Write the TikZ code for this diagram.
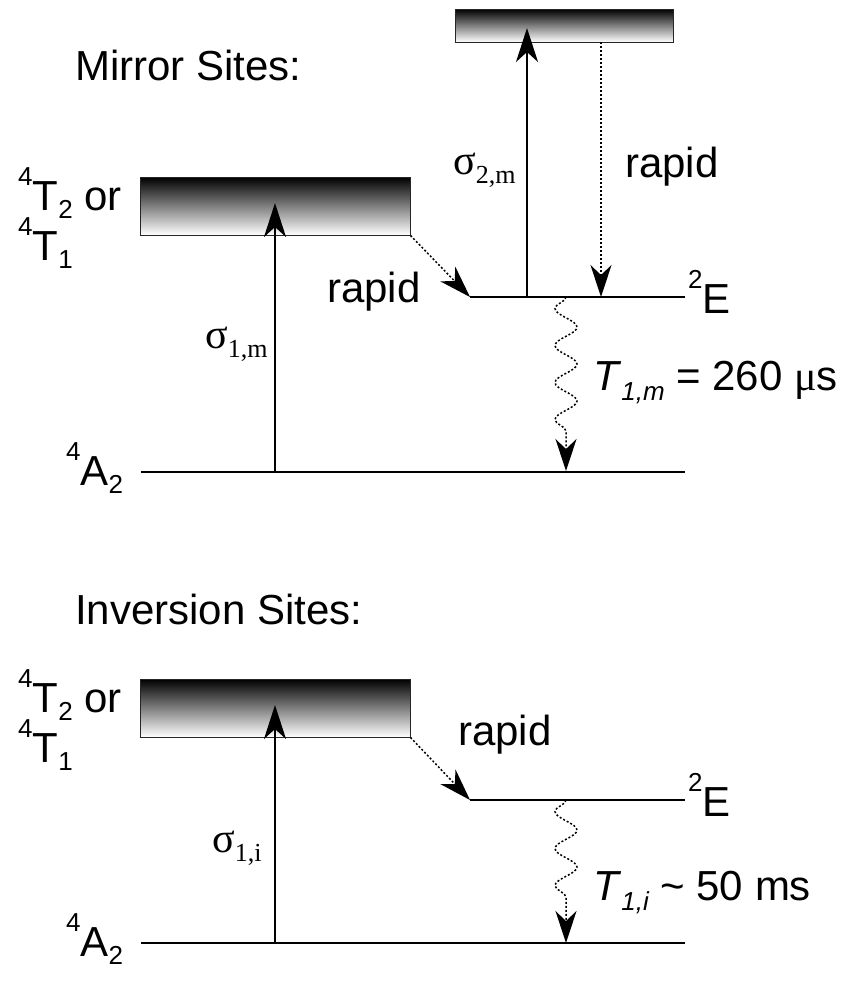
\documentclass[tikz,border=0pt]{standalone}
\usepackage{fontspec}
\setmainfont{Liberation Sans}
\newfontfamily\tnr{Liberation Serif}
\usetikzlibrary{arrows.meta,decorations.pathmorphing}
\newcommand\uidx[1]{\raisebox{25pt}{\fontsize{26pt}{26pt}\selectfont #1}}
\newcommand\lidx[1]{\raisebox{-8pt}{\fontsize{26pt}{26pt}\selectfont #1}}
\newcommand\tidx[1]{\raisebox{-10pt}{\fontsize{26pt}{26pt}\selectfont\itshape #1}}
\newcommand\sidx[1]{\raisebox{-9pt}{\fontsize{26pt}{26pt}\selectfont #1}}
\tikzset{
  lvl/.style={line width=2pt},
  sarrow/.style={line width=2pt,-{Stealth[length=34pt,width=22pt,inset=10pt]}},
  darrow/.style={line width=1.5pt,dash pattern=on 2pt off 2pt,-{Stealth[length=32pt,width=21pt,inset=10pt]}},
  warrow/.style={darrow,decorate,decoration={snake,amplitude=11pt,segment length=37pt,post length=28pt,mirror}},
  gbox/.style={draw=black!85,line width=1pt,top color=black,bottom color=white,inner sep=0pt},
  lbl/.style={anchor=base west,inner sep=0pt,font=\fontsize{42pt}{50pt}\selectfont},
  sig/.style={anchor=base west,inner sep=0pt,font=\tnr\fontsize{42pt}{50pt}\selectfont}
}
\begin{document}
\begin{tikzpicture}[x=1pt,y=-1pt]
\useasboundingbox (0,0) rectangle (850,999);
% ---------------- Mirror sites ----------------
\node[lbl] (mirror) at (75,80) {Mirror Sites:};
\node[gbox,minimum width=270pt,minimum height=58pt] (B1) at (275,206) {};
\node[gbox,minimum width=218pt,minimum height=33pt] (B2) at (564,25.5) {};
\coordinate (A2La) at (141,472); \coordinate (A2Ra) at (685,472);
\coordinate (ELa) at (470,297); \coordinate (ERa) at (685,297);
\draw[lvl] (A2La) -- (A2Ra);
\draw[lvl] (ELa) -- (ERa);
\coordinate (s1b) at (275,472); \coordinate (s1t) at (275,203);
\coordinate (s2b) at (527,297); \coordinate (s2t) at (527,28);
\coordinate (r2t) at (601,42); \coordinate (r2b) at (601,297);
\coordinate (wt) at (566,297); \coordinate (wb) at (566,471);
\draw[sarrow] (s1b) -- (s1t);
\draw[sarrow] (s2b) -- (s2t);
\draw[darrow] (r2t) -- (r2b);
\draw[darrow] (B1.south east) -- (ELa);
\draw[warrow] (wt) -- (wb);
\node[lbl] (t2u) at (18,210) {\uidx{4}T\lidx{2} or};
\node[lbl] (t1u) at (18,260) {\uidx{4}T\lidx{1}};
\node[lbl] (a2u) at (66,485) {\uidx{4}A\lidx{2}};
\node[lbl] (eu) at (688,313) {\uidx{2}E};
\node[lbl] (rap1) at (327,302) {rapid};
\node[lbl] (rap2) at (625,177) {rapid};
\node[sig] (s2m) at (453,174) {σ\sidx{2,m}};
\node[sig] (s1m) at (205,348) {σ\sidx{1,m}};
\node[lbl] (tm) at (593,390) {\textit{T}\tidx{1,m} = 260 {\tnr μ}s};
% ---------------- Inversion sites ----------------
\node[lbl] (inv) at (75,624) {Inversion Sites:};
\node[gbox,minimum width=270pt,minimum height=58pt] (B3) at (275,708) {};
\coordinate (A2Lb) at (141,943); \coordinate (A2Rb) at (685,943);
\coordinate (ELb) at (470,800); \coordinate (ERb) at (685,800);
\draw[lvl] (A2Lb) -- (A2Rb);
\draw[lvl] (ELb) -- (ERb);
\coordinate (s3b) at (275,943); \coordinate (s3t) at (275,705);
\coordinate (wt2) at (566,800); \coordinate (wb2) at (566,943);
\draw[sarrow] (s3b) -- (s3t);
\draw[darrow] (B3.south east) -- (ELb);
\draw[warrow] (wt2) -- (wb2);
\node[lbl] (t2l) at (18,712) {\uidx{4}T\lidx{2} or};
\node[lbl] (t1l) at (18,762) {\uidx{4}T\lidx{1}};
\node[lbl] (a2l) at (66,956) {\uidx{4}A\lidx{2}};
\node[lbl] (el) at (688,816) {\uidx{2}E};
\node[lbl] (rap3) at (458,745) {rapid};
\node[sig] (s1i) at (212,852) {σ\sidx{1,i}};
\node[lbl] (ti) at (593,900) {\textit{T}\tidx{1,i} \textasciitilde{} 50 ms};
\end{tikzpicture}
\end{document}
